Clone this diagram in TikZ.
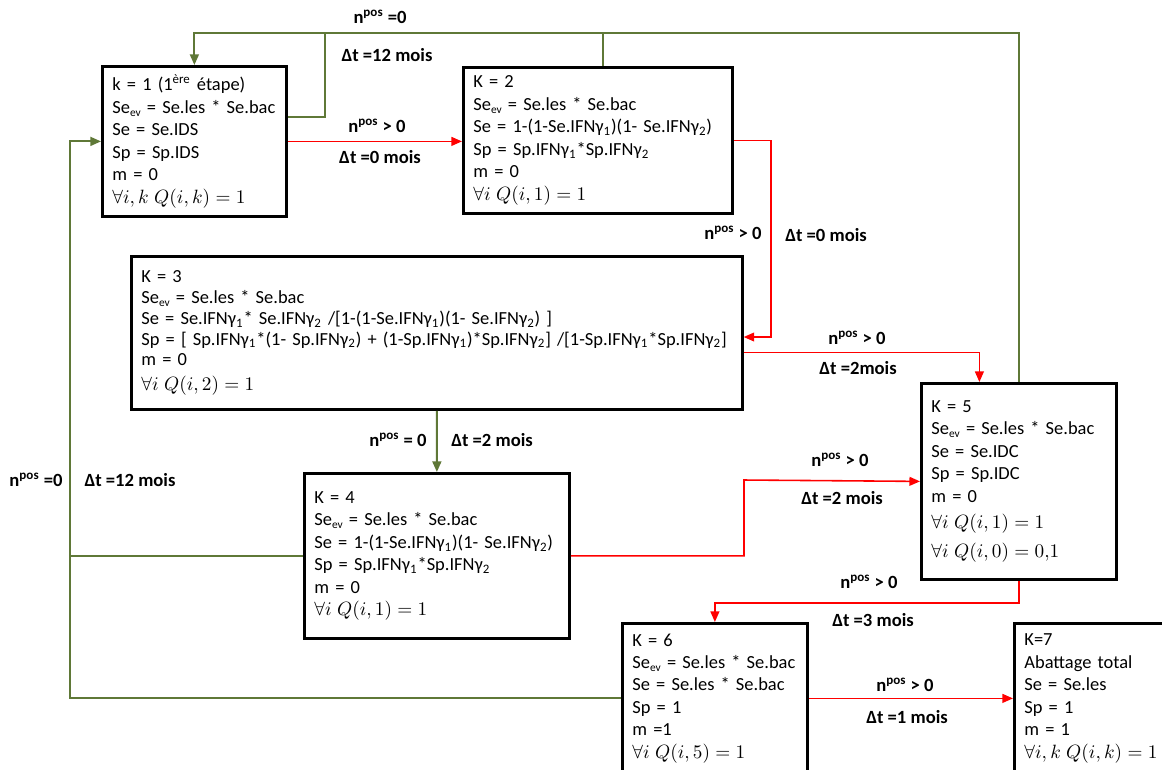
\documentclass[tikz,border=0pt]{standalone}
\usepackage{fontspec}
\setmainfont{Carlito}
\usetikzlibrary{arrows.meta}
\definecolor{vert}{RGB}{95,120,55}
\newcommand{\Sev}{Se\raisebox{-0.35ex}{\fontsize{6.5}{6.5}\selectfont ev}}
\newcommand{\ifn}[1]{IFNγ\textsubscript{#1}}
\newcommand{\npos}{n\textsuperscript{pos}}
\tikzset{
        stage/.style={draw,line width=1.6pt,rectangle,anchor=north west,align=left,inner xsep=0.2cm,inner ysep=0pt},
        cond/.style={font=\fontsize{10.6}{12.8}\selectfont\bfseries,inner sep=1pt},
        oui/.style={red,line width=0.9pt,-{Triangle[length=6pt,width=5pt]}},
        non/.style={vert,line width=1.1pt,-{Triangle[length=6pt,width=5pt]}},
        nonline/.style={vert,line width=1.1pt}
    }

\begin{document}
\begin{tikzpicture}[x=0.02cm,y=-0.02cm,font=\fontsize{10.5}{12.8}\selectfont]
\useasboundingbox (0,0) rectangle (1162,769);
\node[stage,text width=3.28cm,minimum height=3cm] (k1) at (101,65) {k = 1 (1\textsuperscript{ère} étape)\\ \Sev{} = Se.les * Se.bac\\ Se = Se.IDS\\ Sp = Sp.IDS\\ m = 0\\ $\forall i,k\;Q(i,k)=1$};
\node[stage,text width=4.98cm,minimum height=2.92cm] (k2) at (462,66) {K = 2\\ \Sev{} = Se.les * Se.bac\\ Se = 1-(1-Se.\ifn1)(1- Se.\ifn2)\\ Sp = Sp.\ifn1*Sp.\ifn2\\ m = 0\\ $\forall i\;Q(i,1)=1$};
\node[stage,text width=11.82cm,minimum height=3.06cm,font=\fontsize{10.5}{11.8}\selectfont] (k3) at (130,255) {K = 3\\ \Sev{} = Se.les * Se.bac\\ Se = Se.\ifn1* Se.\ifn2 /[1-(1-Se.\ifn1)(1- Se.\ifn2) ]\\ Sp = [ Sp.\ifn1*(1- Sp.\ifn2) + (1-Sp.\ifn1)*Sp.\ifn2] /[1-Sp.\ifn1*Sp.\ifn2]\\ m = 0\\[2pt] $\forall i\;Q(i,2)=1$};
\node[stage,text width=4.9cm,minimum height=3.3cm] (k4) at (303,472) {K = 4\\ \Sev{} = Se.les * Se.bac\\ Se = 1-(1-Se.\ifn1)(1- Se.\ifn2)\\ Sp = Sp.\ifn1*Sp.\ifn2\\ m = 0\\ $\forall i\;Q(i,1)=1$};
\node[stage,text width=3.5cm,minimum height=3.92cm] (k5) at (920,382) {K = 5\\ \Sev{} = Se.les * Se.bac\\ Se = Se.IDC\\ Sp = Sp.IDC\\ m = 0\\[2pt] $\forall i\;Q(i,1)=1$\\[4pt] $\forall i\;Q(i,0)=0{,}1$};
\node[stage,text width=3.3cm,minimum height=3cm] (k6) at (621,622) {K = 6\\ \Sev{} = Se.les * Se.bac\\ Se = Se.les * Se.bac\\ Sp = 1\\ m =1\\ $\forall i\;Q(i,5)=1$};
\node[stage,text width=2.74cm,minimum height=3cm] (k7) at (1013,622) {K=7\\ Abattage total\\ Se = Se.les\\ Sp = 1\\ m = 1\\ $\forall i,k\;Q(i,k)=1$};

\coordinate (rail) at (602,33);
\coordinate (boucle) at (325,33);
\coordinate (b23) at (771,337);
\coordinate (b45) at (744,480);
\coordinate (gauche) at (70,400);

\draw[non] (k5.north) |- (rail) -| (k1.north);
\draw[nonline] ([xshift=.1cm]k2.north) -- ([xshift=.1cm]k2.north |- rail);
\draw[nonline] ([yshift=.48cm]k1.east) -| (boucle);
\draw[oui] (k1.east) -- (k1.east -| k2.west);
\draw[oui] (k2.east) -| (b23) -- (b23 -| k3.east);
\draw[oui] ([yshift=-.39cm]k3.east) -| ([xshift=-.79cm]k5.north);
\draw[non] (k3.south) -- (k4.north);
\draw[oui] (k4.east) -| (b45) -- (k5.west);
\draw[oui] (k5.south) -- ++(0,22) -| (k6.north);
\draw[oui] (k6.east) -- (k7.west);
\draw[non] (k4.west) -| (gauche) |- (k1.west);
\draw[nonline] (k6.west) -| (gauche);

\node[cond] (c0a) at (380,17) {\npos{} =0};
\node[cond] (c0b) at (387,55) {Δt =12 mois};
\node[cond] (c12a) at (377,126) {\npos{} > 0};
\node[cond] (c12b) at (380,157) {Δt =0 mois};
\node[cond] (c23a) at (733,233) {\npos{} > 0};
\node[cond] (c23b) at (826,235) {Δt =0 mois};
\node[cond] (c35a) at (857,338) {\npos{} > 0};
\node[cond] (c35b) at (858,368) {Δt =2mois};
\node[cond] (c34a) at (398,440) {\npos{} = 0};
\node[cond] (c34b) at (492,440) {Δt =2 mois};
\node[cond] (c45a) at (840,460) {\npos{} > 0};
\node[cond] (c45b) at (842,498) {Δt =2 mois};
\node[cond] (c56a) at (869,582) {\npos{} > 0};
\node[cond] (c56b) at (873,620) {Δt =3 mois};
\node[cond] (c67a) at (905,685) {\npos{} > 0};
\node[cond] (c67b) at (907,717) {Δt =1 mois};
\node[cond] (c41a) at (36,480) {\npos{} =0};
\node[cond] (c41b) at (130,480) {Δt =12 mois};
\end{tikzpicture}
\end{document}
